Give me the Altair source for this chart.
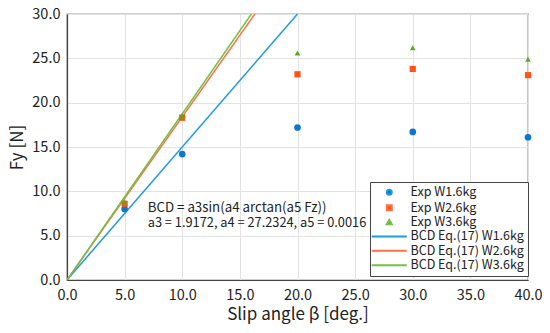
import altair as alt
import pandas as pd

# Experimental data
beta = [5, 10, 20, 30, 40]
fy_w16 = [8.0, 14.2, 17.2, 16.7, 16.1]
fy_w26 = [8.6, 18.3, 23.2, 23.8, 23.1]
fy_w36 = [8.8, 18.5, 25.6, 26.2, 24.9]
exp_names = ["Exp W1.6kg", "Exp W2.6kg", "Exp W3.6kg"]

# BCD model lines: start at origin, end where they leave the top of the plot
bcd_names = ["BCD Eq.(17) W1.6kg", "BCD Eq.(17) W2.6kg", "BCD Eq.(17) W3.6kg"]
bcd_beta = [[0.0, 20.0], [0.0, 16.3], [0.0, 16.0]]
bcd_fy = [[0.0, 30.0], [0.0, 30.0], [0.0, 30.0]]

x_ticks = [0, 5, 10, 15, 20, 25, 30, 35, 40]
y_ticks = [0, 5, 10, 15, 20, 25, 30]

annot1 = "BCD = a3sin(a4 arctan(a5 Fz))"
annot2 = "a3 = 1.9172, a4 = 27.2324, a5 = 0.0016"

marker_colors = ["#0b78d0", "#ff5414", "#4faf1e"]
line_colors = ["#1e9ade", "#ff7246", "#72c046"]

FONT = "Noto Sans CJK JP"

rows = []
for name, vals in zip(exp_names, [fy_w16, fy_w26, fy_w36]):
    for b, v in zip(beta, vals):
        rows.append({"series": name, "beta": b, "fy": v})
exp_df = pd.DataFrame(rows)

lrows = []
for name, bs, fs in zip(bcd_names, bcd_beta, bcd_fy):
    for i, (b, f) in enumerate(zip(bs, fs)):
        lrows.append({"series": name, "beta": b, "fy": f, "order": i})
line_df = pd.DataFrame(lrows)

domain_all = exp_names + bcd_names
line_path = "M-7,0L7,0"

xscale = alt.Scale(domain=[0, 40], nice=False)
yscale = alt.Scale(domain=[0, 30], nice=False)

xenc = alt.X("beta:Q", scale=xscale, axis=alt.Axis(values=x_ticks, format=".1f",
             title="Slip angle  β [deg.]", labelFlush=False))
yenc = alt.Y("fy:Q", scale=yscale, axis=alt.Axis(values=y_ticks, format=".1f",
             title="Fy [N]", labelFlush=False))

leg = dict(orient="none", legendX=303, legendY=168, title=None)

fill_scale = alt.Scale(domain=domain_all, range=marker_colors + line_colors)
stroke_scale = alt.Scale(domain=domain_all, range=line_colors + line_colors)
shape_scale = alt.Scale(domain=domain_all,
                        range=["circle", "square", "triangle-up", line_path, line_path, line_path])

lines = alt.Chart(line_df).mark_line(strokeWidth=1.5, clip=True).encode(
    x=xenc, y=yenc,
    stroke=alt.Stroke("series:N", scale=stroke_scale, legend=alt.Legend(**leg)),
    order="order:Q",
    detail="series:N",
)

sizes = alt.Scale(domain=exp_names, range=[45, 32, 55])
points = alt.Chart(exp_df).mark_point(filled=True, opacity=1, strokeWidth=0).encode(
    x=xenc, y=yenc,
    fill=alt.Fill("series:N", scale=fill_scale, legend=alt.Legend(**leg)),
    stroke=alt.Stroke("series:N", scale=stroke_scale, legend=alt.Legend(**leg)),
    shape=alt.Shape("series:N", scale=shape_scale, legend=alt.Legend(**leg)),
    size=alt.Size("series:N", scale=sizes, legend=None),
)

t1 = alt.Chart(pd.DataFrame({"t": [annot1]})).mark_text(
    align="left", baseline="alphabetic", fontSize=13.3, font=FONT, color="#222"
).encode(x=alt.datum(7.0), y=alt.datum(7.65), text="t:N")
t2 = alt.Chart(pd.DataFrame({"t": [annot2]})).mark_text(
    align="left", baseline="alphabetic", fontSize=12.8, font=FONT, color="#222"
).encode(x=alt.datum(7.0), y=alt.datum(6.0), text="t:N")

chart = alt.layer(lines, points, t1, t2).properties(
    width=461, height=266,
    autosize=alt.AutoSizeParams(type="none"),
    padding={"left": 59, "top": 6, "right": 14, "bottom": 45},
).configure_view(
    stroke="#444", strokeWidth=1.2
).configure_axis(
    labelFont=FONT, titleFont=FONT, labelFontSize=14.5, titleFontSize=17,
    titleFontWeight="normal", labelColor="#222", titleColor="#222",
    gridColor="#e3e3e3", gridWidth=1, domainColor="#444", domainWidth=1.2,
    ticks=False, labelPadding=8,
).configure_axisX(titlePadding=5).configure_axisY(titlePadding=5, labelPadding=7).configure_legend(
    labelFont=FONT, labelFontSize=12.5, labelColor="#222",
    fillColor="white", strokeColor="#444", padding=4, cornerRadius=0,
    symbolSize=25, symbolStrokeWidth=2, symbolOffset=9, labelOffset=15, rowPadding=1.4,
    labelLimit=300,
)

chart.save("out.html", embed_options={"renderer": "svg", "actions": False})
